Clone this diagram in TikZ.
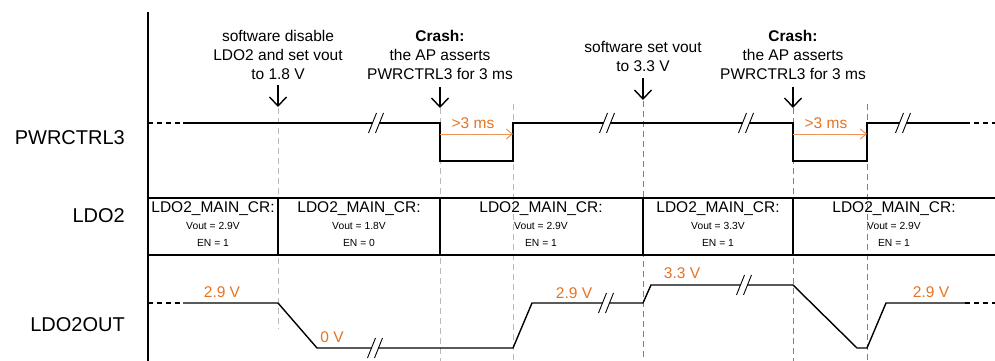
\documentclass[tikz,border=0pt]{standalone}
\usepackage{fontspec}
\setmainfont{Liberation Sans}
\usetikzlibrary{arrows.meta}
\definecolor{aorange}{RGB}{229,115,35}
\definecolor{aorangel}{RGB}{238,148,85}
\definecolor{gl}{RGB}{185,185,185}
\definecolor{gd}{RGB}{130,130,130}
\newcommand\sigbreak[2]{%
  \fill[white] (#1-7.5,#2+10) -- (#1+0.5,#2-10) -- (#1+7.5,#2-10) -- (#1-0.5,#2+10) -- cycle;
  \draw[line width=0.9pt] (#1-7.5,#2+10) -- (#1+0.5,#2-10) (#1-0.5,#2+10) -- (#1+7.5,#2-10);}
\begin{document}
\begin{tikzpicture}[x=1pt,y=-1pt,
  sig/.style={line width=1.4pt, black, line join=miter},
  sigdash/.style={line width=1.4pt, black, dash pattern=on 5pt off 4pt},
  guidel/.style={gl, line width=1pt, dash pattern=on 6pt off 4pt},
  guided/.style={gd, line width=0.8pt, dash pattern=on 6pt off 4pt},
  frame/.style={line width=1.1pt, black},
  rowlabel/.style={anchor=east, inner sep=0pt, font=\fontsize{20}{24}\selectfont},
  note/.style={align=center, inner sep=0pt, font=\fontsize{15.5}{19}\selectfont},
  crbig/.style={inner sep=0pt, font=\fontsize{15.5}{19}\selectfont},
  crsmall/.style={inner sep=0pt, font=\fontsize{10.3}{12}\selectfont},
  volt/.style={inner sep=0pt, text=aorange, font=\fontsize{15.5}{19}\selectfont},
  event/.style={line width=1.4pt, -{Straight Barb[length=9pt,width=17pt]}},
  dur/.style={aorangel, line width=1pt, -{Straight Barb[length=6pt,width=10pt]}}
]
\useasboundingbox (0,0) rectangle (995,361);

% guide lines
\draw[guidel] (278,108) -- (278,329);
\draw[guidel] (440,108) -- (440,361);
\draw[guidel] (513,104) -- (513,361);
\draw[guided] (643,101) -- (643,358);
\draw[guided] (793,108) -- (793,361);
\draw[guided] (867,104) -- (867,361);

% axis
\draw[frame] (148,12) -- (148,361);

% row labels
\node[rowlabel] (lpw) at (125,138) {PWRCTRL3};
\node[rowlabel] (lldo) at (125,216) {LDO2};
\node[rowlabel] (lout) at (125,325) {LDO2OUT};

% annotations
\node[note] (n1) at (278,55) {software disable\\LDO2 and set vout\\to 1.8 V};
\node[note] (n2) at (440,55) {\textbf{Crash:}\\the AP asserts\\PWRCTRL3 for 3 ms};
\node[note] (n3) at (643,56.5) {software set vout\\to 3.3 V};
\node[note] (n4) at (793,55) {\textbf{Crash:}\\the AP asserts\\PWRCTRL3 for 3 ms};

\coordinate (a1s) at (278,85);  \coordinate (a1e) at (278,107);
\coordinate (a2s) at (440,87);  \coordinate (a2e) at (440,108);
\coordinate (a3s) at (643,78);  \coordinate (a3e) at (643,100);
\coordinate (a4s) at (793,87);  \coordinate (a4e) at (793,108);
\draw[event] (a1s) -- (a1e);
\draw[event] (a2s) -- (a2e);
\draw[event] (a3s) -- (a3e);
\draw[event] (a4s) -- (a4e);

% PWRCTRL3 waveform
\draw[sigdash] (148,123) -- (183,123);
\draw[sig] (183,123) -- (440,123) -- (440,161) -- (513,161) -- (513,123)
  -- (793,123) -- (793,161) -- (867,161) -- (867,123) -- (965,123);
\draw[sigdash] (965,123) -- (995,123);
\sigbreak{376}{123}
\sigbreak{607}{123}
\sigbreak{746}{123}
\sigbreak{903}{123}

% durations
\coordinate (d1s) at (440,134); \coordinate (d1e) at (513,134);
\coordinate (d2s) at (793,134); \coordinate (d2e) at (867,134);
\draw[dur] (d1s) -- (d1e);
\draw[dur] (d2s) -- (d2e);
\node[volt] (t1) at (473,123) {>3 ms};
\node[volt] (t2) at (826,123) {>3 ms};

% LDO2 register row
\draw[frame] (148,198) -- (995,198);
\draw[frame] (148,255) -- (995,255);
\foreach \x in {278,440,643,793} \draw[frame] (\x,198) -- (\x,255);
\foreach \c/\v/\e [count=\i] in {213/2.9/1, 359/1.8/0, 541/2.9/1, 718/3.3/1, 894/2.9/1} {
  \node[crbig] (c\i a) at (\c,209) {LDO2\_MAIN\_CR:};
  \node[crsmall] (c\i b) at (\c,226) {Vout = \v V};
  \node[crsmall] (c\i c) at (\c,243) {EN = \e};
}

% LDO2OUT waveform
\draw[sigdash] (148,303) -- (183,303);
\draw[sig] (183,303) -- (278,303) -- (317,348) -- (513,348) -- (532,303) -- (643,303)
  -- (651,285) -- (793,285) -- (857,348) -- (867,348) -- (886,303) -- (965,303);
\draw[sigdash] (965,303) -- (995,303);
\sigbreak{375}{348}
\sigbreak{606}{303}
\sigbreak{744}{285}

\node[volt] (v1) at (222,292) {2.9 V};
\node[volt] (v2) at (332,337) {0 V};
\node[volt] (v3) at (574,293) {2.9 V};
\node[volt] (v4) at (682,273) {3.3 V};
\node[volt] (v5) at (931,292) {2.9 V};
\end{tikzpicture}
\end{document}
